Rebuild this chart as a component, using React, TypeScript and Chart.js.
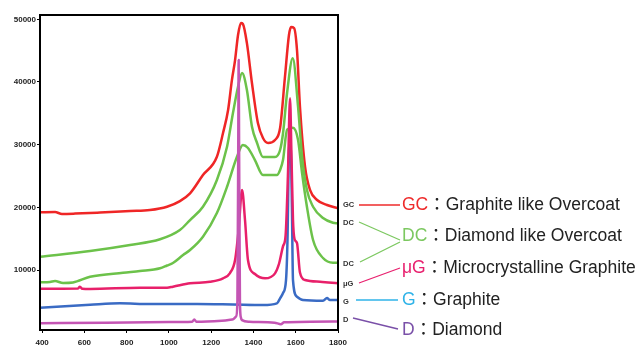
import React, { useEffect, useRef } from "react";
import { Chart, registerables } from "chart.js";

Chart.register(...registerables);

// ---- data (wavenumber cm-1 / intensity) ----
const GC_X = [390,461,494,556,674,816,910,991,1052,1100,1161,1227,1256,1280,1298,1313,1327,1341,1350,1369,1393,1421,1445,1469,1502,1526,1549,1568,1578,1592,1606,1620,1644,1668,1701,1748,1800];
const GC_Y = [19200,19250,18950,19000,19170,19410,19570,20100,21000,22240,25160,28080,31860,35530,40300,43500,47500,49400,49250,46200,39800,33450,31060,30260,30740,32650,40800,47500,48770,48600,45100,36050,26500,22760,21170,20370,19840];

const DC1_X = [390,627,816,958,1052,1100,1161,1227,1275,1303,1327,1346,1369,1393,1417,1445,1502,1526,1540,1559,1586,1611,1630,1653,1682,1729,1776,1800];
const DC1_Y = [12120,13030,13990,14900,16380,17980,20100,24360,29670,35050,39250,41430,38720,32860,30260,28030,28030,29150,31860,38240,43780,36050,28080,22760,20100,18300,17550,17450];

const DC2_X = [390,437,461,499,546,627,783,863,958,991,1019,1067,1100,1161,1227,1275,1322,1350,1374,1407,1445,1511,1526,1540,1559,1587,1611,1630,1653,1682,1729,1776,1800];
const DC2_Y = [8040,8090,8250,7930,8010,8930,9570,9840,10270,10720,11120,12390,13190,15310,19090,23290,28080,29940,29470,27550,25160,25160,25960,27600,32400,32700,30740,25480,20100,14790,11920,11170,11170];

const UG_X = [390,570,579,590,627,863,991,1019,1100,1194,1256,1289,1313,1330,1346,1360,1374,1407,1455,1502,1521,1540,1552,1563,1573,1580,1587,1594,1606,1620,1644,1715,1800];
const UG_Y = [7020,7050,7350,7000,6970,7180,7180,7340,7880,8130,8680,9520,11600,16500,22760,17980,11600,9360,8680,9470,11000,13800,15500,25000,37400,28000,18000,15000,14300,9600,8400,8130,7880];

const G_X = [390,627,768,910,1133,1303,1445,1511,1526,1540,1554,1561,1568,1572,1577,1582,1587,1606,1634,1729,1748,1762,1800];
const G_Y = [3990,4460,4690,4580,4580,4500,4420,4690,5490,6330,8400,14800,29000,30000,29000,20000,8400,5740,5210,5100,5530,5210,5210];

const D_X = [390,700,1000,1110,1120,1130,1250,1300,1318,1324,1328,1330,1332,1336,1340,1346,1380,1500,1530,1545,1800];
const D_Y = [1500,1600,1700,1750,2100,1750,1900,2100,2600,5000,30000,43500,30000,5000,2500,2000,1750,1600,1350,1650,1800];

const X_TICKS = [400,600,800,1000,1200,1400,1600,1800];
const Y_TICKS = [10000,20000,30000,40000,50000];

const END_LABELS = ["GC","DC","DC","μG","G","D"];
const LEGEND_ABBR = ["GC","DC","μG","G","D"];
const LEGEND_DESC = ["Graphite like Overcoat","Diamond like Overcoat","Microcrystalline Graphite","Graphite","Diamond"];

// ---- styles / positions ----
const COL = { gc: "#ef2626", dc: "#6cc24a", ug: "#e8206a", g: "#3a6bc4", d: "#c455b4" };
const LEG_COL = ["#ee2b2b", "#7cc860", "#e8206e", "#2fb3e8", "#7a50a8"];
const END_LABEL_Y = [205, 222.5, 263.5, 284, 302, 320];
const LEGEND_Y = [205.5, 236.5, 268.5, 300.5, 330];
const CONNECTORS: [number, number, number, number, string][] = [
  [359, 205, 400, 205, LEG_COL[0]],
  [359, 222, 400, 240, LEG_COL[1]],
  [360, 262, 400, 242, LEG_COL[1]],
  [359, 283, 400, 268, LEG_COL[2]],
  [356, 300, 398, 300, LEG_COL[3]],
  [353, 318, 398, 329, LEG_COL[4]],
];

const pts = (xs: number[], ys: number[]) => xs.map((x, i) => ({ x, y: ys[i] }));

const decor = {
  id: "decor",
  afterDraw(chart: any) {
    const { ctx, chartArea } = chart;
    const { left, top, right, bottom } = chartArea;
    ctx.save();
    ctx.strokeStyle = "#000";
    ctx.lineWidth = 2;
    ctx.strokeRect(left, top, right - left, bottom - top);

    ctx.font = 'bold 7.5px "Liberation Sans", Arial, sans-serif';
    ctx.fillStyle = "#333";
    ctx.textAlign = "left";
    ctx.textBaseline = "middle";
    END_LABELS.forEach((t, i) => ctx.fillText(t, 343, END_LABEL_Y[i]));

    ctx.lineWidth = 1.3;
    CONNECTORS.forEach(([x1, y1, x2, y2, c]) => {
      ctx.strokeStyle = c;
      ctx.beginPath();
      ctx.moveTo(x1, y1);
      ctx.lineTo(x2, y2);
      ctx.stroke();
    });

    ctx.font = '17.5px "Liberation Sans", Arial, "Noto Sans CJK JP", sans-serif';
    LEGEND_ABBR.forEach((a, i) => {
      const y = LEGEND_Y[i];
      ctx.fillStyle = LEG_COL[i];
      ctx.fillText(a, 402, y);
      const w = ctx.measureText(a).width;
      ctx.fillStyle = "#222";
      ctx.fillText("：" + LEGEND_DESC[i], 402 + w, y);
    });
    ctx.restore();
  },
};

export default function App() {
  const ref = useRef<HTMLCanvasElement | null>(null);
  useEffect(() => {
    if (!ref.current) return;
    const tickFont = { family: '"Liberation Sans", Arial, sans-serif', size: 8, weight: "bold" as const };
    const chart = new Chart(ref.current, {
      type: "line",
      data: {
        datasets: [
          { label: "D", data: pts(D_X, D_Y), borderColor: COL.d },
          { label: "μG", data: pts(UG_X, UG_Y), borderColor: COL.ug },
          { label: "G", data: pts(G_X, G_Y), borderColor: COL.g },
          { label: "DC", data: pts(DC1_X, DC1_Y), borderColor: COL.dc },
          { label: "DC2", data: pts(DC2_X, DC2_Y), borderColor: COL.dc },
          { label: "GC", data: pts(GC_X, GC_Y), borderColor: COL.gc },
        ],
      },
      options: {
        animation: false,
        responsive: false,
        maintainAspectRatio: false,
        layout: { padding: { left: 0, right: 299, top: 15, bottom: 0 } },
        plugins: { legend: { display: false }, tooltip: { enabled: false } },
        elements: {
          point: { radius: 0 },
          line: { borderWidth: 2.5, cubicInterpolationMode: "monotone", borderJoinStyle: "round", fill: false },
        },
        scales: {
          x: {
            type: "linear",
            min: 390,
            max: 1800,
            afterBuildTicks: (s: any) => { s.ticks = X_TICKS.map((v) => ({ value: v })); },
            afterFit: (s: any) => { s.height = 17; },
            grid: { display: true, drawOnChartArea: false, drawTicks: true, tickLength: 3, color: "#000" },
            border: { display: false },
            ticks: { font: tickFont, color: "#222", padding: 5, maxRotation: 0, autoSkip: false, callback: (v: any) => String(v) },
          },
          y: {
            type: "linear",
            min: 430,
            max: 50690,
            afterBuildTicks: (s: any) => { s.ticks = Y_TICKS.map((v) => ({ value: v })); },
            afterFit: (s: any) => { s.width = 40; },
            grid: { display: true, drawOnChartArea: false, drawTicks: true, tickLength: 3, color: "#000" },
            border: { display: false },
            ticks: { font: tickFont, color: "#222", padding: 1, autoSkip: false, callback: (v: any) => String(v) },
          },
        },
      },
      plugins: [decor],
    });
    return () => chart.destroy();
  }, []);
  return (
    <div style={{ position: "fixed", left: 0, top: 0, width: 637, height: 347, background: "#fff" }}>
      <canvas ref={ref} width={637} height={347} style={{ width: 637, height: 347, display: "block" }} />
    </div>
  );
}
